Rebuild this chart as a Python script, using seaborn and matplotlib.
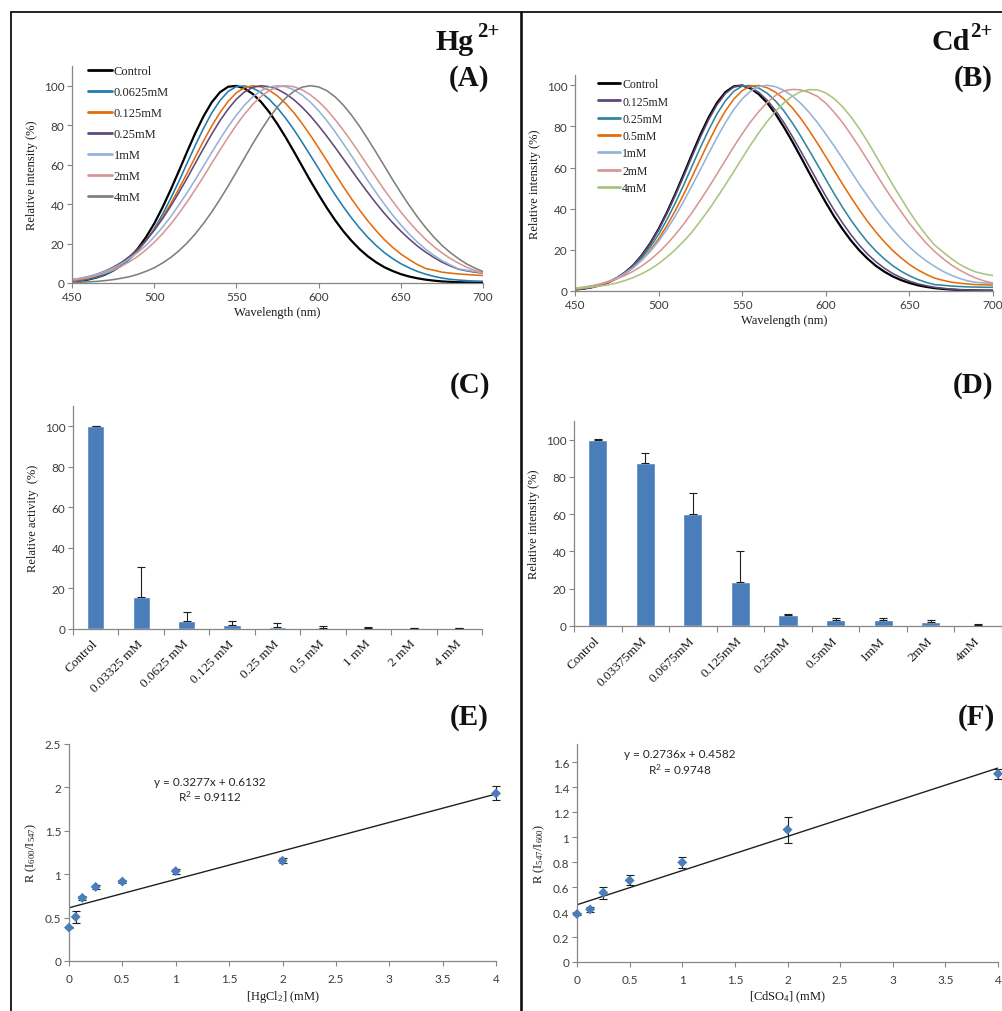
import numpy as np
import matplotlib
matplotlib.use("Agg")
import matplotlib.pyplot as plt
from matplotlib.lines import Line2D
import seaborn as sns

# ---------------------------------------------------------------- data
wavelength = list(range(450, 701, 5))

# Hg2+ emission spectra (relative intensity, %), 450-700 nm every 5 nm
hg_spec_labels = ["Control", "0.0625mM", "0.125mM", "0.25mM", "1mM", "2mM", "4mM"]
hg_control = [0.7, 1.1, 1.8, 2.8, 4.2, 6.3, 9.0, 12.6, 17.4, 23.2,
              30.1, 38.2, 47.2, 56.7, 66.5, 76.0, 84.5, 91.6, 96.7, 99.5,
              99.9, 98.6, 95.8, 91.8, 86.6, 80.5, 73.8, 66.6, 59.2, 51.8,
              44.8, 38.1, 31.9, 26.3, 21.4, 17.1, 13.5, 10.5, 8.0, 6.1,
              4.5, 3.3, 2.4, 1.7, 1.2, 0.8, 0.6, 0.4, 0.3, 0.2, 0.2]
hg_00625 = [0.8, 1.2, 1.9, 2.8, 4.2, 6.1, 8.6, 12.0, 16.2, 21.4,
            27.5, 34.7, 42.8, 51.5, 60.7, 69.8, 78.4, 86.2, 92.5, 97.1,
            99.6, 99.9, 98.8, 96.5, 93.1, 88.7, 83.5, 77.7, 71.3, 64.7,
            58.0, 51.3, 44.8, 38.7, 33.0, 27.8, 23.1, 19.0, 15.4, 12.4,
            9.8, 7.7, 5.9, 4.5, 3.4, 2.5, 1.9, 1.5, 1.2, 1.0, 0.9]
hg_0125 = [1.2, 1.8, 2.6, 3.7, 5.2, 7.1, 9.6, 12.8, 16.7, 21.4,
           26.9, 33.1, 40.1, 47.7, 55.7, 63.9, 72.0, 79.6, 86.4, 92.1,
           96.4, 99.1, 100.0, 99.4, 97.7, 94.8, 91.0, 86.3, 80.8, 74.9,
           68.5, 62.0, 55.4, 48.9, 42.7, 36.9, 31.4, 26.5, 22.0, 18.1,
           14.7, 11.9, 9.4, 7.4, 6.5, 5.5, 5.0, 4.6, 4.3, 4.0, 3.8]
hg_025 = [1.6, 2.3, 3.2, 4.4, 6.0, 8.0, 10.4, 13.5, 17.2, 21.6,
          26.7, 32.5, 38.9, 45.8, 53.1, 60.7, 68.2, 75.5, 82.3, 88.2,
          93.2, 96.9, 99.2, 100.0, 99.5, 98.2, 95.9, 92.9, 89.1, 84.7,
          79.7, 74.4, 68.8, 63.0, 57.2, 51.4, 45.8, 40.4, 35.3, 30.6,
          26.3, 22.4, 18.8, 15.7, 13.0, 10.6, 8.7, 7.0, 6.2, 5.5, 5.0]
hg_1 = [1.8, 2.4, 3.3, 4.4, 5.8, 7.6, 9.7, 12.4, 15.5, 19.1,
        23.4, 28.2, 33.6, 39.5, 45.8, 52.4, 59.3, 66.2, 72.9, 79.3,
        85.1, 90.2, 94.4, 97.5, 99.4, 100.0, 99.5, 97.9, 95.2, 91.7,
        87.3, 82.3, 76.7, 70.7, 64.5, 58.1, 51.8, 45.8, 40.0, 34.5,
        29.5, 24.9, 20.8, 17.2, 14.1, 11.4, 9.2, 7.2, 6.5, 5.8, 5.3]
hg_2 = [1.5, 2.1, 2.8, 3.8, 5.0, 6.6, 8.5, 10.8, 13.5, 16.8,
        20.6, 24.9, 29.8, 35.2, 41.1, 47.4, 53.9, 60.7, 67.4, 73.9,
        80.1, 85.7, 90.6, 94.6, 97.6, 99.4, 100.0, 99.5, 97.9, 95.4,
        92.0, 87.8, 82.9, 77.5, 71.7, 65.6, 59.4, 53.3, 47.2, 41.5,
        36.0, 31.0, 26.4, 22.2, 18.5, 15.3, 12.5, 10.1, 8.0, 6.4, 5.0]
hg_4 = [0.3, 0.4, 0.6, 0.8, 1.2, 1.7, 2.4, 3.2, 4.4, 5.9,
        7.7, 10.1, 12.9, 16.3, 20.3, 24.9, 30.2, 36.0, 42.4, 49.2,
        56.3, 63.5, 70.7, 77.5, 83.8, 89.3, 93.8, 97.2, 99.3, 100.0,
        99.4, 97.5, 94.4, 90.2, 85.1, 79.3, 72.9, 66.2, 59.3, 52.4,
        45.8, 39.5, 33.6, 28.2, 23.4, 19.1, 15.5, 12.4, 9.7, 7.6, 5.8]
hg_spectra = [hg_control, hg_00625, hg_0125, hg_025, hg_1, hg_2, hg_4]
hg_spec_colors = ["#000000", "#1F7BB0", "#E46C0A", "#5F497A", "#95B3D7", "#D99694", "#7F7F7F"]

# Cd2+ emission spectra
cd_spec_labels = ["Control", "0.125mM", "0.25mM", "0.5mM", "1mM", "2mM", "4mM"]
cd_control = [0.7, 1.1, 1.8, 2.8, 4.2, 6.3, 9.0, 12.6, 17.4, 23.2,
              30.1, 38.2, 47.2, 56.7, 66.5, 76.0, 84.5, 91.6, 96.7, 99.5,
              99.9, 98.5, 95.6, 91.4, 86.0, 79.6, 72.6, 65.2, 57.6, 50.2,
              43.0, 36.2, 30.1, 24.6, 19.8, 15.7, 12.2, 9.4, 7.1, 5.3,
              3.9, 2.8, 2.0, 1.4, 1.0, 0.7, 0.5, 0.4, 0.3, 0.2, 0.2]
cd_0125 = [0.7, 1.2, 1.8, 2.8, 4.3, 6.3, 9.1, 12.7, 17.3, 23.0,
           29.8, 37.7, 46.5, 55.8, 65.4, 74.8, 83.4, 90.6, 96.0, 99.2,
           100.0, 98.9, 96.5, 92.7, 87.7, 81.8, 75.1, 68.0, 60.7, 53.3,
           46.1, 39.3, 33.1, 27.4, 22.3, 17.9, 14.2, 11.1, 8.5, 6.5,
           4.8, 3.5, 2.6, 1.8, 1.3, 0.9, 0.6, 0.5, 0.4, 0.3, 0.3]
cd_025 = [0.8, 1.2, 1.9, 2.8, 4.2, 6.1, 8.6, 12.0, 16.2, 21.4,
          27.5, 34.7, 42.8, 51.5, 60.7, 69.8, 78.4, 86.2, 92.5, 97.1,
          99.6, 99.9, 98.6, 96.1, 92.3, 87.5, 81.7, 75.3, 68.4, 61.4,
          54.3, 47.3, 40.7, 34.5, 28.9, 23.8, 19.4, 15.6, 12.3, 9.6,
          7.4, 5.6, 4.2, 3.1, 2.8, 2.4, 2.2, 2.0, 1.9, 1.8, 1.8]
cd_05 = [0.9, 1.3, 2.0, 2.9, 4.2, 6.0, 8.4, 11.4, 15.2, 19.8,
         25.3, 31.8, 39.1, 47.0, 55.5, 64.1, 72.6, 80.6, 87.6, 93.3,
         97.4, 99.6, 99.9, 98.8, 96.6, 93.3, 89.0, 83.9, 78.1, 71.8,
         65.3, 58.6, 52.0, 45.6, 39.5, 33.8, 28.6, 23.9, 19.7, 16.1,
         12.9, 10.3, 8.1, 6.3, 5.2, 4.3, 3.8, 3.4, 3.1, 3.0, 2.9]
cd_1 = [1.1, 1.6, 2.4, 3.4, 4.7, 6.4, 8.7, 11.5, 15.0, 19.2,
        24.2, 30.0, 36.4, 43.6, 51.2, 59.0, 67.0, 74.7, 81.9, 88.2,
        93.4, 97.2, 99.4, 100.0, 99.3, 97.5, 94.8, 91.2, 86.9, 81.9,
        76.3, 70.5, 64.4, 58.2, 52.0, 46.1, 40.4, 35.0, 30.0, 25.5,
        21.4, 17.8, 14.7, 12.0, 9.6, 7.7, 6.1, 4.9, 4.2, 3.9, 3.7]
cd_2 = [1.3, 1.9, 2.5, 3.4, 4.5, 5.9, 7.6, 9.7, 12.2, 15.2,
        18.7, 22.8, 27.4, 32.5, 38.1, 44.2, 50.4, 57.0, 63.6, 70.2,
        76.4, 82.2, 87.3, 91.7, 95.1, 97.3, 98.0, 97.8, 96.5, 94.6,
        91.3, 86.9, 81.9, 76.1, 70.0, 63.6, 57.0, 50.6, 44.4, 38.6,
        32.9, 28.0, 23.3, 19.3, 15.8, 12.7, 10.2, 8.0, 6.2, 4.8, 3.9]
cd_4 = [1.5, 1.6, 1.9, 2.4, 3.0, 3.9, 5.1, 6.6, 8.4, 10.6,
        13.3, 16.5, 20.1, 24.2, 28.7, 34.0, 39.5, 45.5, 51.7, 58.1,
        64.6, 71.0, 77.0, 82.5, 87.4, 91.5, 94.7, 96.9, 97.9, 97.8,
        96.3, 93.5, 89.6, 84.7, 79.0, 72.6, 65.7, 58.7, 51.7, 45.1,
        38.6, 32.6, 27.2, 22.4, 19.0, 15.8, 13.0, 10.8, 9.2, 8.2, 7.5]
cd_spectra = [cd_control, cd_0125, cd_025, cd_05, cd_1, cd_2, cd_4]
cd_spec_colors = ["#000000", "#5F497A", "#31859C", "#E46C0A", "#95B3D7", "#D99694", "#A9C47F"]

# Relative activity / intensity bars
hg_bar_labels = ["Control", "0.03325 mM", "0.0625 mM", "0.125 mM", "0.25 mM",
                 "0.5 mM", "1 mM", "2 mM", "4 mM"]
hg_activity = [100.0, 15.6, 3.9, 1.9, 1.0, 0.7, 0.5, 0.4, 0.4]
hg_activity_err = [0.3, 15.2, 4.3, 2.0, 2.0, 1.0, 0.3, 0.15, 0.05]

cd_bar_labels = ["Control", "0.03375mM", "0.0675mM", "0.125mM", "0.25mM",
                 "0.5mM", "1mM", "2mM", "4mM"]
cd_intensity = [100.0, 87.5, 60.1, 23.7, 5.9, 3.4, 3.4, 2.4, 0.6]
cd_intensity_err = [0.3, 5.4, 11.3, 16.5, 0.8, 0.9, 0.9, 0.9, 0.3]

# Ratiometric calibration
hg_conc = [0, 0.0625, 0.125, 0.25, 0.5, 1, 2, 4]
hg_ratio = [0.385, 0.508, 0.727, 0.854, 0.915, 1.035, 1.154, 1.931]
hg_ratio_err = [0.01, 0.07, 0.02, 0.02, 0.015, 0.03, 0.03, 0.08]
hg_slope, hg_intercept, hg_r2 = 0.3277, 0.6132, 0.9112

cd_conc = [0, 0.125, 0.25, 0.5, 1, 2, 4]
cd_ratio = [0.384, 0.421, 0.555, 0.653, 0.797, 1.059, 1.507]
cd_ratio_err = [0.01, 0.02, 0.047, 0.04, 0.045, 0.105, 0.04]
cd_slope, cd_intercept, cd_r2 = 0.2736, 0.4582, 0.9748

# ---------------------------------------------------------------- style
sns.set_theme(style="ticks")
SANS = ["Lato", "DejaVu Sans"]
SERIF = ["Liberation Serif", "DejaVu Serif"]
plt.rcParams["font.family"] = SANS
plt.rcParams["mathtext.fontset"] = "custom"
plt.rcParams["mathtext.rm"] = "Liberation Serif"
plt.rcParams["mathtext.it"] = "Liberation Serif:italic"
plt.rcParams["mathtext.bf"] = "Liberation Serif:bold"

AXIS_GRAY = "#868686"
TICK_TEXT = "#3C3C3C"
BAR_BLUE = "#4A7EBB"
POINT_BLUE = "#4A7EBB"
ERR_COLOR = "#1E1E1E"
TICK_SIZE = 8.5

W, H = 1003, 1012
fig = plt.figure(figsize=(W / 100, H / 100), dpi=100)
fig.patch.set_facecolor("white")


def px_axes(left, top, right, bottom):
    return fig.add_axes([left / W, 1 - bottom / H, (right - left) / W, (bottom - top) / H])


def fig_text(x, y, s, **kw):
    fig.text(x / W, 1 - y / H, s, **kw)


def excel_style(ax):
    sns.despine(ax=ax)
    for side in ("left", "bottom"):
        ax.spines[side].set_color(AXIS_GRAY)
        ax.spines[side].set_linewidth(0.9)
    ax.tick_params(axis="both", which="both", direction="out", length=3.5, width=0.8,
                   color=AXIS_GRAY, labelsize=TICK_SIZE, labelcolor=TICK_TEXT, pad=2)
    ax.set_facecolor("white")
    ax.grid(False)


def serif_label(ax, xlabel, ylabel, size=9):
    ax.set_xlabel(xlabel, family=SERIF, size=size, color="#1A1A1A", labelpad=3)
    ax.set_ylabel(ylabel, family=SERIF, size=size, color="#1A1A1A", labelpad=4)


def spectra_panel(ax, spectra, labels, colors, ymax, legend_xy, legend_size, spacing):
    for vals, lab, col in zip(spectra, labels, colors):
        lw = 1.6 if lab == "Control" else 1.15
        sns.lineplot(x=wavelength, y=vals, color=col, linewidth=lw, label=lab, ax=ax, sort=False)
    ax.set_xlim(450, 700)
    ax.set_ylim(0, ymax)
    ax.set_xticks(range(450, 701, 50))
    ax.set_yticks(range(0, 101, 20))
    excel_style(ax)
    serif_label(ax, "Wavelength (nm)", "Relative intensity (%)")
    leg = ax.legend(loc="upper left", bbox_to_anchor=legend_xy, frameon=False,
                    prop={"family": SERIF, "size": legend_size}, handlelength=1.9,
                    handletextpad=0.15, labelspacing=spacing, borderpad=0, borderaxespad=0)
    for line in leg.get_lines():
        line.set_linewidth(2.0)


def bar_panel(ax, labels, values, errs, ylabel, width):
    n = len(labels)
    sns.barplot(x=labels, y=values, color=BAR_BLUE, saturation=1, width=width,
                errorbar=None, ax=ax, zorder=2)
    ax.errorbar(range(n), values, yerr=[[0] * n, errs], fmt="none", ecolor=ERR_COLOR,
                elinewidth=0.8, capsize=2.6, capthick=0.8, zorder=3)
    ax.set_xlim(-0.5, n - 0.5)
    ax.set_ylim(0, 110)
    ax.set_yticks(range(0, 101, 20))
    excel_style(ax)
    ax.set_xticks(range(n))
    ax.set_xticklabels(labels, rotation=45, ha="right", va="center", rotation_mode="anchor",
                       family=SERIF, size=9.5, color="#1A1A1A")
    ax.set_xticks(np.arange(-0.5, n, 1.0), minor=True)
    ax.tick_params(axis="x", which="major", length=0, pad=9)
    ax.tick_params(axis="x", which="minor", length=4)
    ax.set_xlabel("")
    ax.set_ylabel(ylabel, family=SERIF, size=9, color="#1A1A1A", labelpad=4)


def calib_panel(ax, conc, ratio, err, slope, intercept, r2, ymax, yticks, ylabels,
                xlabel, ylabel, eq_xy):
    x_fit = np.array([0.0, 4.0])
    sns.lineplot(x=x_fit, y=slope * x_fit + intercept, color="#202020", linewidth=1.0, ax=ax)
    ax.errorbar(conc, ratio, yerr=err, fmt="none", ecolor=ERR_COLOR, elinewidth=0.8,
                capsize=2.6, capthick=0.8, zorder=3, clip_on=False)
    sns.scatterplot(x=conc, y=ratio, marker="D", s=26, color=POINT_BLUE, edgecolor="none",
                    ax=ax, zorder=4, clip_on=False)
    ax.set_xlim(0, 4)
    ax.set_ylim(0, ymax)
    ax.set_xticks(np.arange(0, 4.01, 0.5))
    ax.set_xticklabels(["0", "0.5", "1", "1.5", "2", "2.5", "3", "3.5", "4"])
    ax.set_yticks(yticks)
    ax.set_yticklabels(ylabels)
    excel_style(ax)
    ax.tick_params(axis="x", pad=5)
    serif_label(ax, xlabel, ylabel)
    ax.text(eq_xy[0], eq_xy[1], f"y = {slope}x + {intercept}", ha="center", va="center",
            size=8.5, color="#262626")
    ax.text(eq_xy[0], eq_xy[1] - eq_xy[2], "R$^{\\mathregular{2}}$ = " + f"{r2}", ha="center",
            va="center", size=8.5, color="#262626")


# ---------------------------------------------------------------- (A) Hg spectra
axA = px_axes(72, 67, 483, 284)
spectra_panel(axA, hg_spectra, hg_spec_labels, hg_spec_colors, 110,
              (0.039, 1.003), 9, 0.72)

# ---------------------------------------------------------------- (B) Cd spectra
axB = px_axes(575, 76, 993, 292)
spectra_panel(axB, cd_spectra, cd_spec_labels, cd_spec_colors, 105,
              (0.055, 0.985), 8.5, 0.45)

# ---------------------------------------------------------------- (C) Hg activity
axC = px_axes(73, 407, 482, 630)
bar_panel(axC, hg_bar_labels, hg_activity, hg_activity_err, "Relative activity  (%)", 0.38)

# ---------------------------------------------------------------- (D) Cd intensity
axD = px_axes(574, 422, 1002, 627)
bar_panel(axD, cd_bar_labels, cd_intensity, cd_intensity_err, "Relative intensity (%)", 0.40)

# ---------------------------------------------------------------- (E) Hg calibration
axE = px_axes(69, 745, 496, 962)
calib_panel(axE, hg_conc, hg_ratio, hg_ratio_err, hg_slope, hg_intercept, hg_r2, 2.5,
            [0, 0.5, 1, 1.5, 2, 2.5], ["0", "0.5", "1", "1.5", "2", "2.5"],
            "[HgCl$_{\\mathregular{2}}$] (mM)", "R (I$_{\\mathregular{600}}$/I$_{\\mathregular{547}}$)",
            (1.32, 2.07, 0.165))

# ---------------------------------------------------------------- (F) Cd calibration
axF = px_axes(577, 745, 998, 963)
calib_panel(axF, cd_conc, cd_ratio, cd_ratio_err, cd_slope, cd_intercept, cd_r2, 1.745,
            np.arange(0, 1.61, 0.2), ["0", "0.2", "0.4", "0.6", "0.8", "1", "1.2", "1.4", "1.6"],
            "[CdSO$_{\\mathregular{4}}$] (mM)", "R (I$_{\\mathregular{547}}$/I$_{\\mathregular{600}}$)",
            (0.98, 1.665, 0.115))

# ---------------------------------------------------------------- headings
head = dict(family=SERIF, weight="bold", color="#111111", va="baseline")
fig_text(436, 50, "Hg", size=21.5, ha="left", **head)
fig_text(477, 37, "2+", size=15, ha="left", **head)
fig_text(932, 50, "Cd", size=21.5, ha="left", **head)
fig_text(970, 37, "2+", size=15, ha="left", **head)
for label, x, y in [("(A)", 469, 86), ("(B)", 973, 86), ("(C)", 470, 393),
                    ("(D)", 973, 393), ("(E)", 469, 725), ("(F)", 976, 725)]:
    fig_text(x, y, label, size=21, ha="center", **head)

# ---------------------------------------------------------------- frame lines
frame = [([11, W], [13, 13], 1.3), ([11, 11], [13, H], 1.3), ([520.5, 520.5], [13, H], 1.9)]
for xs, ys, lw in frame:
    fig.add_artist(Line2D([x / W for x in xs], [1 - y / H for y in ys],
                          transform=fig.transFigure, color="#111111", linewidth=lw))

fig.savefig("out.png", dpi=100, facecolor="white")
